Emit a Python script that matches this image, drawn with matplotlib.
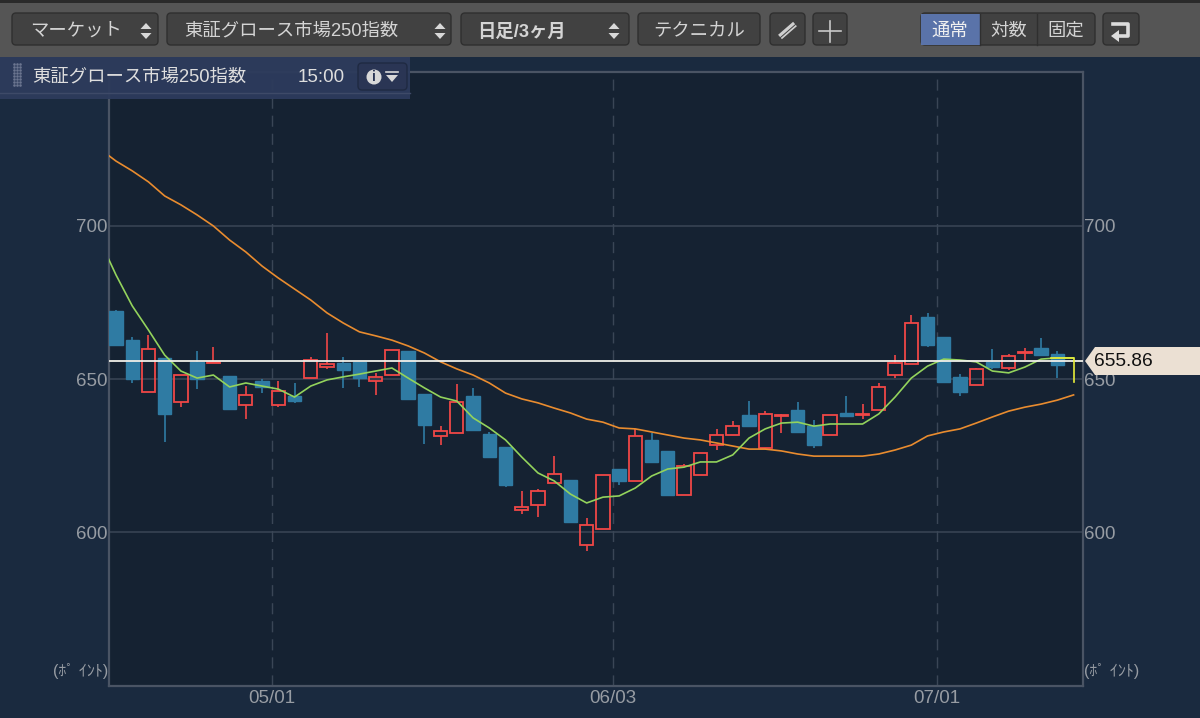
import matplotlib
matplotlib.use("Agg")
import matplotlib.pyplot as plt
from matplotlib.patches import Rectangle, FancyBboxPatch, Polygon, Circle

plt.rcParams['font.family'] = ['Liberation Sans', 'Noto Sans CJK JP', 'DejaVu Sans']

highs = [672.5,663.7,664.4,656.9,651.3,659.2,660.5,651.0,647.7,650.0,649.3,648.7,657.2,665.0,657.2,655.6,652.0,659.5,659.2,645.1,
         634.6,648.4,647.1,632.7,627.8,613.4,614.1,624.8,617.0,604.6,618.6,620.6,633.7,632.4,626.5,622.2,625.8,633.7,636.3,642.8,
         639.5,638.6,642.5,636.6,638.2,644.4,641.8,648.7,657.8,670.9,671.6,663.7,651.6,653.6,659.8,658.2,660.1,663.4,659.2]
lows = [660.8,648.7,645.8,629.4,640.8,646.7,655.2,640.2,636.9,645.4,640.8,642.2,650.3,653.3,647.1,647.4,644.8,651.3,643.5,628.8,
        628.4,632.4,633.3,624.5,614.7,605.9,604.9,616.0,603.3,593.8,601.0,615.4,616.7,622.5,612.1,612.1,618.6,626.8,631.7,634.6,
        627.1,632.4,632.7,627.5,631.7,637.9,636.9,639.9,650.3,654.9,660.5,649.0,644.4,648.0,653.3,652.9,656.2,657.8,650.3]
body_top = [672.2,662.7,659.8,656.9,651.3,655.6,655.6,651.0,644.8,649.3,646.1,644.4,656.2,654.9,655.2,655.6,650.7,659.5,659.2,645.1,
            633.0,642.5,644.4,632.0,627.8,608.2,613.4,619.0,617.0,602.3,618.6,620.6,631.4,630.1,626.5,621.6,625.8,631.7,634.6,638.2,
            638.6,638.2,639.9,634.6,638.2,638.9,638.6,647.4,655.2,668.3,670.3,663.7,650.7,653.3,655.6,657.5,658.8,660.1,658.2]
body_bottom = [661.1,650.0,645.8,638.6,642.5,650.0,655.2,640.2,641.5,647.4,641.5,642.8,650.3,653.9,652.9,650.3,649.3,651.3,643.5,635.0,
               631.4,632.4,633.3,624.5,615.4,607.2,608.8,616.0,603.3,595.8,601.0,616.7,616.7,622.9,612.1,612.1,618.6,628.4,631.7,634.6,
               627.5,637.9,632.7,628.4,631.7,637.9,638.4,639.9,651.3,654.9,661.1,649.0,645.8,648.0,653.9,653.6,658.6,657.8,654.6]
rising = [0,0,1,0,1,0,1,0,1,0,1,0,1,1,0,0,1,1,0,0,
          1,1,0,0,0,1,1,1,0,1,1,0,1,0,0,1,1,1,1,0,
          1,1,0,0,1,0,1,1,1,1,0,0,0,1,0,1,1,0,0]
last_open = 656.9
last_close = 649.0
last_price = 655.86

ma_short = [695.4,684.0,673.9,666.0,657.8,652.6,650.3,651.3,647.4,648.7,647.7,646.7,644.1,647.7,649.7,650.7,651.6,652.6,653.6,650.3,647.1,
            644.1,642.8,637.3,634.0,630.1,624.5,619.3,616.7,612.4,609.5,611.4,611.8,614.4,618.3,620.6,621.2,622.9,622.9,625.2,630.7,
            633.7,635.6,635.9,634.6,635.3,635.3,635.3,638.6,644.1,650.3,654.2,656.5,656.2,655.6,652.6,652.0,653.9,656.5,656.9,656.9]
ma_long = [725.2,721.2,718.0,714.4,709.8,706.9,703.6,700.0,695.4,691.5,686.9,683.0,679.4,675.8,671.6,668.3,665.4,664.1,662.7,660.8,658.5,
           655.6,653.3,651.3,648.7,645.4,643.5,642.2,640.5,638.9,636.9,635.9,634.0,633.7,632.7,631.7,630.7,630.1,629.1,628.1,627.1,
           627.1,626.5,625.5,624.8,624.8,624.8,624.8,625.5,626.8,628.4,631.4,632.7,633.7,635.6,637.6,639.5,640.8,641.8,643.1,644.8]
ma_x = list(range(-1, 60))

date_positions = [9.6, 30.6, 50.6]
date_labels = ['05/01', '06/03', '07/01']
y_ticks = [600, 650, 700]

BG = '#1a2a3f'; PLOT = '#152232'; GRID = '#3a4656'; BORDER = '#4a5464'; TXT = '#979ca3'
UP = '#f04747'; DOWN = '#2f7ba3'

fig = plt.figure(figsize=(12, 7.18), dpi=100, facecolor=BG)
ax = fig.add_axes([109/1200, 1-686/718, (1083-109)/1200, (686-72)/718], facecolor=PLOT)
ax.set_xlim(-0.431, 59.58)
ax.set_ylim(549.7, 750.3)
for s in ax.spines.values():
    s.set_color(BORDER); s.set_linewidth(1.6)
ax.set_yticks(y_ticks); ax.set_yticklabels([str(v) for v in y_ticks])
ax.set_xticks(date_positions); ax.set_xticklabels(date_labels)
ax.tick_params(axis='both', length=0, labelsize=13.5, labelcolor=TXT)
ax.tick_params(axis='y', labelright=True, labelleft=True, pad=1)
ax.tick_params(axis='x', pad=3)
ax.grid(axis='y', color=GRID, lw=1.1, zorder=1)
ax.grid(axis='x', color=GRID, lw=1.0, ls=(0, (8, 5)), zorder=1)
ax.set_axisbelow(True)

W = 0.82
for i in range(len(highs)):
    c = UP if rising[i] else DOWN
    ax.plot([i, i], [body_top[i], highs[i]], color=c, lw=1.2, zorder=3, solid_capstyle='butt')
    ax.plot([i, i], [body_bottom[i], lows[i]], color=c, lw=1.2, zorder=3, solid_capstyle='butt')
    ax.add_patch(Rectangle((i - W/2, body_bottom[i]), W, body_top[i] - body_bottom[i],
                           facecolor='none' if rising[i] else c, edgecolor=c,
                           lw=1.3 if rising[i] else 1.0, zorder=3))
ax.plot(ma_x, ma_long, color='#e98c2f', lw=1.2, zorder=4)
ax.plot(ma_x, ma_short, color='#93d35c', lw=1.2, zorder=4)
ax.axhline(last_price, color='#f0efe8', lw=1.3, zorder=5)
ax.plot([57.6, 59, 59], [last_open, last_open, last_close], color='#e8ee3a', lw=1.2, zorder=6)

ov = fig.add_axes([0, 0, 1, 1], facecolor='none', zorder=10)
ov.set_xlim(0, 1200); ov.set_ylim(718, 0); ov.axis('off')

def btn(x0, x1, y0=13, y1=45, fc='#414141'):
    ov.add_patch(FancyBboxPatch((x0+3, y0+3), x1-x0-6, y1-y0-6, boxstyle='round,pad=3,rounding_size=4',
                                fc=fc, ec='#2f2f2f', lw=1.0))

def updown(x, y=31):
    ov.add_patch(Polygon([(x-5.5, y-2), (x+5.5, y-2), (x, y-8)], fc='#d8d8d8', ec='none'))
    ov.add_patch(Polygon([(x-5.5, y+2), (x+5.5, y+2), (x, y+8)], fc='#d8d8d8', ec='none'))

# toolbar
ov.add_patch(Rectangle((0, 0), 1200, 57, fc='#555555', ec='none'))
ov.add_patch(Rectangle((0, 0), 1200, 3, fc='#2a2a2a', ec='none'))
JP = dict(color='#d4d4d4', va='center', fontsize=13.2)
btn(12, 158); ov.text(30, 31, 'マーケット', **JP); updown(146)
btn(167, 451); ov.text(184, 31, '東証グロース市場250指数', **JP); updown(440)
btn(461, 629); ov.text(477, 32, '日足/3ヶ月', fontweight='bold', **JP); updown(614)
btn(638, 760); ov.text(699, 31, 'テクニカル', ha='center', **JP)
btn(770, 805)
ov.plot([780, 795], [37, 24], color='#cfcfcf', lw=4.2, solid_capstyle='butt')
ov.plot([780.5, 795.5], [37.5, 24.5], color='#414141', lw=0.7)
btn(813, 847); ov.plot([830, 830], [21, 42], color='#c8c8c8', lw=1.2); ov.plot([819, 841], [31, 31], color='#c8c8c8', lw=1.2)
btn(921, 1095)
ov.add_patch(Rectangle((921, 14), 59, 31, fc='#5a73a9', ec='none'))
ov.plot([1037, 1037], [14, 45], color='#2f2f2f', lw=1)
ov.plot([980, 980], [14, 45], color='#2f2f2f', lw=1)
ov.text(950, 31, '通常', ha='center', va='center', color='#f0f0f0', fontsize=13.2)
ov.text(1009, 31, '対数', ha='center', **JP)
ov.text(1066, 31, '固定', ha='center', **JP)
btn(1103, 1139)
ov.plot([1113, 1128, 1128, 1118], [24, 24, 36, 36], color='#dcdcdc', lw=2.6)
ov.add_patch(Polygon([(1111, 36), (1119, 30), (1119, 42)], fc='#dcdcdc', ec='none'))

# info panel
ov.add_patch(Rectangle((0, 57), 410, 42, fc='#2d3b5c', ec='none', alpha=0.96))
ov.plot([0, 410], [93, 93], color='#3e4a68', lw=1)
for px in (14, 17, 20):
    ov.plot([px]*8, range(64, 88, 3), ls='none', marker='s', ms=0.8, color='#6c7690')
ov.text(32, 77, '東証グロース市場250指数', color='#dedede', va='center', fontsize=13.2)
ov.text(321, 77, '15:00', color='#dedede', va='center', ha='center', fontsize=13.5)
ov.add_patch(FancyBboxPatch((360, 65), 45, 23, boxstyle='round,pad=2,rounding_size=4', fc='#2a3554', ec='#1f2a42', lw=1))
ov.add_patch(Circle((374, 77), 7.5, fc='#d8d8d8', ec='none'))
ov.text(374, 77, 'i', color='#2a3554', ha='center', va='center', fontsize=10, fontweight='bold')
ov.add_patch(Polygon([(386, 75), (398, 75), (392, 82)], fc='#d8d8d8', ec='none'))
ov.plot([386, 398], [71.5, 71.5], color='#d8d8d8', lw=1.2)

# price tag
ov.add_patch(Polygon([(1085, 361), (1095, 347), (1200, 347), (1200, 375), (1095, 375)], fc='#ebe0d3', ec='none'))
ov.text(1094, 361, f'{last_price:.2f}', color='#111111', va='center', fontsize=13.8)

# units
ov.text(108, 671, '(ﾎﾟ ｲﾝﾄ)', color=TXT, ha='right', va='center', fontsize=11.5)
ov.text(1084, 671, '(ﾎﾟ ｲﾝﾄ)', color=TXT, ha='left', va='center', fontsize=11.5)

fig.savefig('out.png', dpi=100, facecolor=BG)
